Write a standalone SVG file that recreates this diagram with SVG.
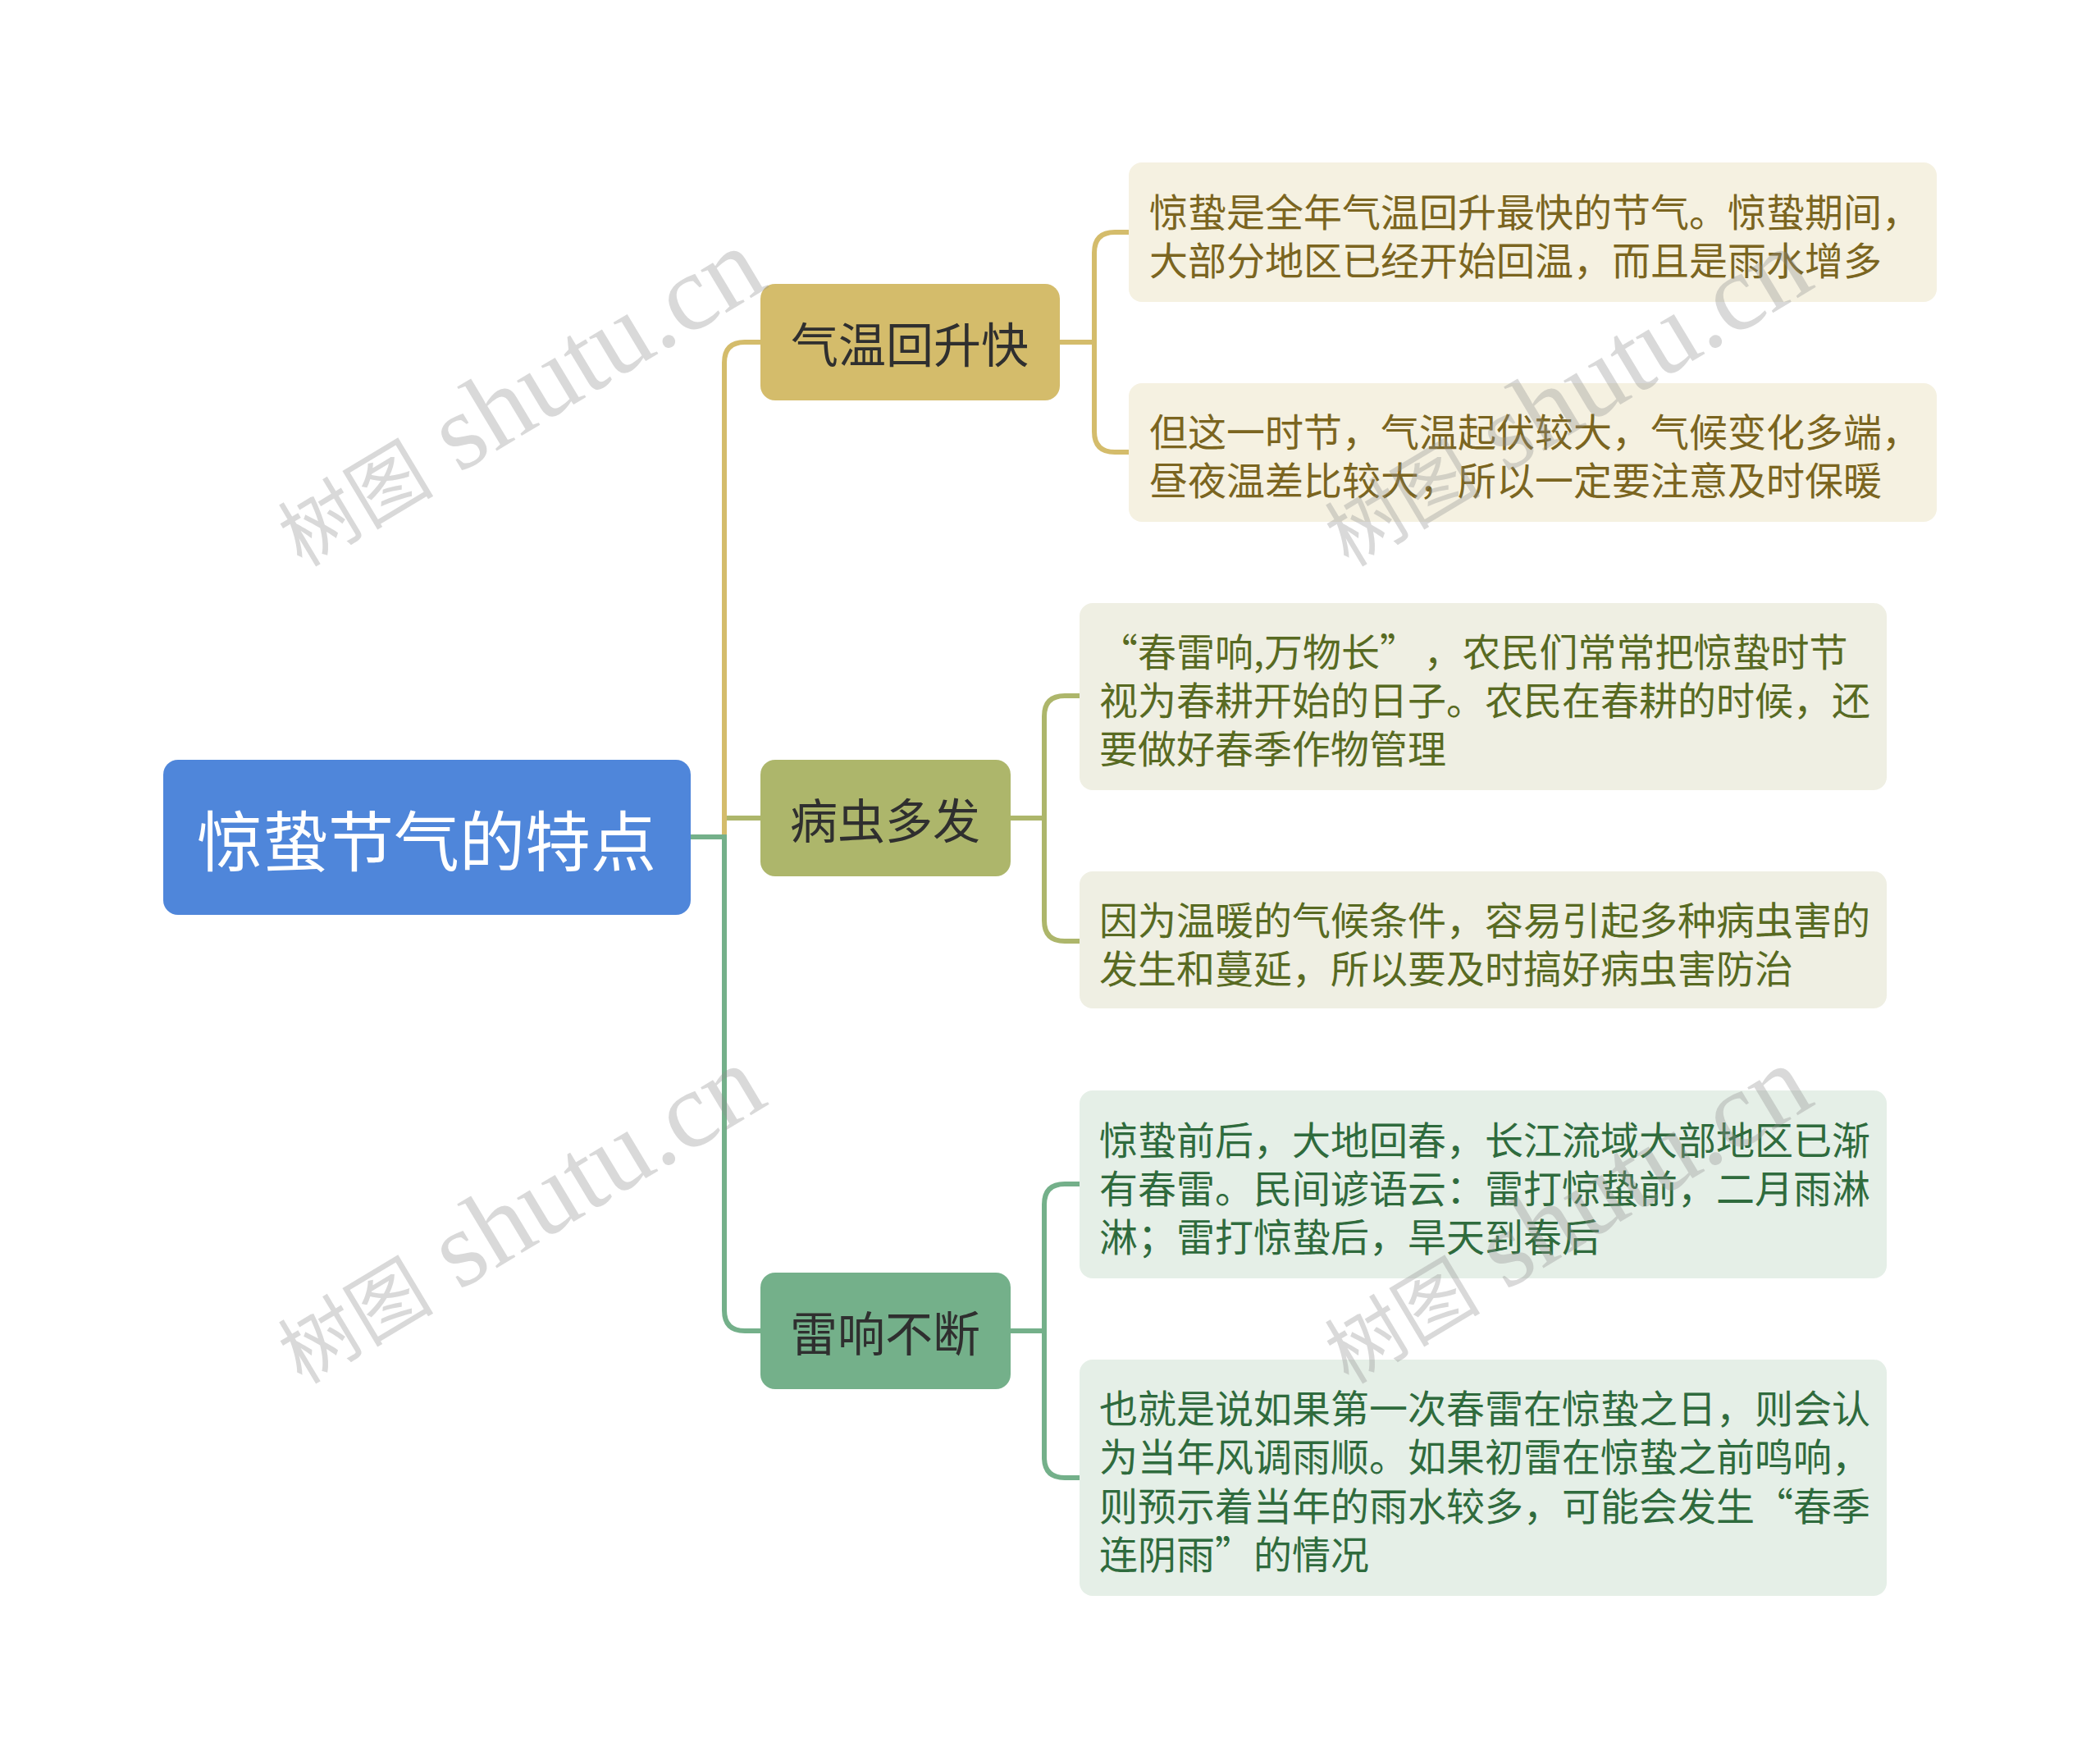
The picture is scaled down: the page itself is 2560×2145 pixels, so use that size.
<svg xmlns="http://www.w3.org/2000/svg" width="2560" height="2145" viewBox="0 0 2560 2145">
<style>
.cjk{font-family:"Noto Sans CJK SC","Noto Sans",sans-serif}
.root-t{font-size:80px;fill:#ffffff}
.main-t{font-size:58px;fill:#2f2f2f}
.leaf-t{font-size:47px}
.gold-t{fill:#7b6520}
.olive-t{fill:#586a22}
.green-t{fill:#2f6b3d}
.conn{fill:none;stroke-width:6;stroke-linecap:butt}
.c-gold{stroke:#d4bc6b}
.c-olive{stroke:#adb66b}
.c-green{stroke:#74b08a}
.wm{font-family:"Liberation Serif","Noto Sans CJK SC",serif;fill:#8f8f8f;fill-opacity:0.34}
</style>
<rect width="2560" height="2145" fill="#ffffff"/>
<g id="connectors">
<path class="conn c-olive" d="M883,997 H927"/>
<path class="conn c-gold" d="M883,1020 V442 Q883,417 908,417 H927"/>
<path class="conn c-green" d="M842,1020 H883 V1597 Q883,1622 908,1622 H927"/>
<path class="conn c-gold" d="M1292,417 H1334 M1376,283 H1359 Q1334,283 1334,308 V526 Q1334,551 1359,551 H1376"/>
<path class="conn c-olive" d="M1232,997 H1273 M1316,848 H1298 Q1273,848 1273,873 V1122 Q1273,1147 1298,1147 H1316"/>
<path class="conn c-green" d="M1232,1622 H1273 M1316,1443 H1298 Q1273,1443 1273,1468 V1776 Q1273,1801 1298,1801 H1316"/>
</g>
<g id="root">
<rect x="199" y="926" width="643" height="189" rx="18" fill="#4f86da"/>
<text class="cjk root-t" x="520" y="1020" text-anchor="middle" dominant-baseline="central">惊蛰节气的特点</text>
</g>
<g id="main-1">
<rect x="927" y="346" width="365" height="142" rx="18" fill="#d4bc6b"/>
<text class="cjk main-t" x="1109" y="417" text-anchor="middle" dominant-baseline="central">气温回升快</text>
</g>
<g id="main-2">
<rect x="927" y="926" width="305" height="142" rx="18" fill="#adb66b"/>
<text class="cjk main-t" x="1079" y="997" text-anchor="middle" dominant-baseline="central">病虫多发</text>
</g>
<g id="main-3">
<rect x="927" y="1551" width="305" height="142" rx="18" fill="#74b08a"/>
<text class="cjk main-t" x="1079" y="1622" text-anchor="middle" dominant-baseline="central">雷响不断</text>
</g>
<g id="leaf-1">
<rect x="1376" y="198" width="985" height="170" rx="16" fill="#f5f1e1"/>
<text class="cjk leaf-t gold-t" dominant-baseline="central"><tspan x="1401" y="255">惊蛰是全年气温回升最快的节气。惊蛰期间，</tspan><tspan x="1401" y="314">大部分地区已经开始回温，而且是雨水增多</tspan></text>
</g>
<g id="leaf-2">
<rect x="1376" y="467" width="985" height="169" rx="16" fill="#f5f1e1"/>
<text class="cjk leaf-t gold-t" dominant-baseline="central"><tspan x="1401" y="523">但这一时节，气温起伏较大，气候变化多端，</tspan><tspan x="1401" y="582">昼夜温差比较大，所以一定要注意及时保暖</tspan></text>
</g>
<g id="leaf-3">
<rect x="1316" y="735" width="984" height="228" rx="16" fill="#efefe3"/>
<text class="cjk leaf-t olive-t" dominant-baseline="central"><tspan x="1340" y="791">“春雷响,万物长”</tspan><tspan dx="30">，农民们常常把惊蛰时节</tspan><tspan x="1340" y="850">视为春耕开始的日子。农民在春耕的时候，还</tspan><tspan x="1340" y="909">要做好春季作物管理</tspan></text>
</g>
<g id="leaf-4">
<rect x="1316" y="1062" width="984" height="167" rx="16" fill="#efefe3"/>
<text class="cjk leaf-t olive-t" dominant-baseline="central"><tspan x="1340" y="1118">因为温暖的气候条件，容易引起多种病虫害的</tspan><tspan x="1340" y="1177">发生和蔓延，所以要及时搞好病虫害防治</tspan></text>
</g>
<g id="leaf-5">
<rect x="1316" y="1329" width="984" height="229" rx="16" fill="#e5efe7"/>
<text class="cjk leaf-t green-t" dominant-baseline="central"><tspan x="1340" y="1386">惊蛰前后，大地回春，长江流域大部地区已渐</tspan><tspan x="1340" y="1445">有春雷。民间谚语云：雷打惊蛰前，二月雨淋</tspan><tspan x="1340" y="1504">淋；雷打惊蛰后，旱天到春后</tspan></text>
</g>
<g id="leaf-6">
<rect x="1316" y="1657" width="984" height="288" rx="16" fill="#e5efe7"/>
<text class="cjk leaf-t green-t" dominant-baseline="central"><tspan x="1340" y="1713">也就是说如果第一次春雷在惊蛰之日，则会认</tspan><tspan x="1340" y="1772">为当年风调雨顺。如果初雷在惊蛰之前鸣响，</tspan><tspan x="1340" y="1832">则预示着当年的雨水较多，可能会发生“春季</tspan><tspan x="1340" y="1891">连阴雨”的情况</tspan></text>
</g>
<g id="watermarks">
<text class="wm" transform="translate(368,692) rotate(-31)"><tspan font-size="95">树图</tspan><tspan font-size="132"> shutu.cn</tspan></text>
<text class="wm" transform="translate(1644,692) rotate(-31)"><tspan font-size="95">树图</tspan><tspan font-size="132"> shutu.cn</tspan></text>
<text class="wm" transform="translate(368,1688) rotate(-31)"><tspan font-size="95">树图</tspan><tspan font-size="132"> shutu.cn</tspan></text>
<text class="wm" transform="translate(1644,1688) rotate(-31)"><tspan font-size="95">树图</tspan><tspan font-size="132"> shutu.cn</tspan></text>
</g>
</svg>
